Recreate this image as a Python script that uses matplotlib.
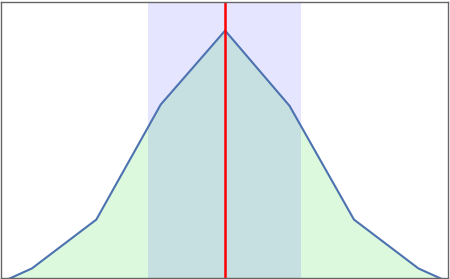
import matplotlib
matplotlib.use("Agg")
import matplotlib.pyplot as plt

# valeurs
x = [-4, -3, -2, -1, 0, 1, 2, 3, 4]
y = [0.0, 0.109, 0.292, 0.723, 1.0, 0.718, 0.292, 0.109, 0.0]
moyenne = 0.0
bande = (-1.195, 1.185)

fig = plt.figure(figsize=(4.5, 2.79), dpi=100)
ax = fig.add_axes([1 / 450, 1.5 / 279, 447 / 450, 276 / 279])

ax.fill_between(x, y, 0, color="lightgreen", alpha=0.3, linewidth=0)
ax.axvspan(bande[0], bande[1], color="blue", alpha=0.1, linewidth=0)
ax.plot(x, y, color="#4c72b0", linewidth=1.5)
ax.axvline(moyenne, color="red", linewidth=1.8)

ax.set_xlim(-3.48, 3.46)
ax.set_ylim(0.075, 1.109)
ax.set_xticks([])
ax.set_yticks([])
for s in ax.spines.values():
    s.set_color("#666666")
    s.set_linewidth(1.0)

plt.savefig("out.png", dpi=100)
